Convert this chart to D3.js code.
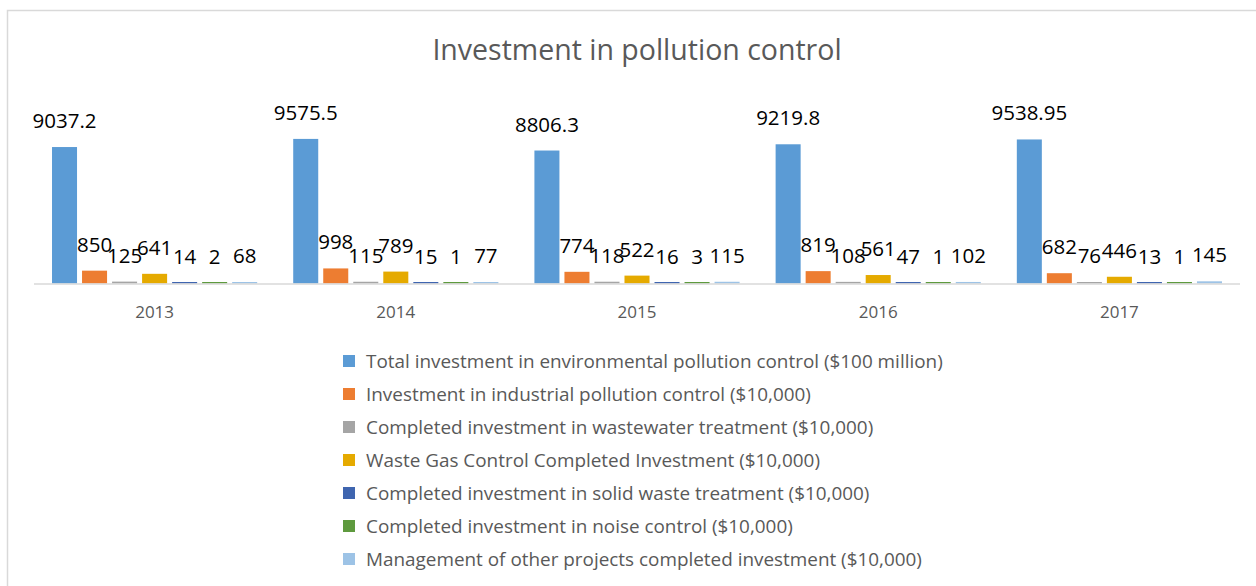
<!DOCTYPE html>
<html>
<head>
<meta charset="utf-8">
<script src="https://cdn.jsdelivr.net/npm/d3@7"></script>
<style>
  body { margin: 0; background: #fff; }
  text { font-family: "Open Sans", sans-serif; }
</style>
</head>
<body>
<div class="visholder"></div>
<script>
let width = 1256,
    height = 586;

// data
const years = ["2013", "2014", "2015", "2016", "2017"];
const seriesNames = [
    "Total investment in environmental pollution control ($100 million)",
    "Investment in industrial pollution control ($10,000)",
    "Completed investment in wastewater treatment ($10,000)",
    "Waste Gas Control Completed Investment ($10,000)",
    "Completed investment in solid waste treatment ($10,000)",
    "Completed investment in noise control ($10,000)",
    "Management of other projects completed investment ($10,000)"
];
const totalInvestment = [9037.2, 9575.5, 8806.3, 9219.8, 9538.95];
const industrial = [850, 998, 774, 819, 682];
const wastewater = [125, 115, 118, 108, 76];
const wasteGas = [641, 789, 522, 561, 446];
const solidWaste = [14, 15, 16, 47, 13];
const noise = [2, 1, 3, 1, 1];
const otherProjects = [68, 77, 115, 102, 145];

const seriesValues = [totalInvestment, industrial, wastewater, wasteGas, solidWaste, noise, otherProjects];
const colors = ["#5B9BD5", "#ED7D31", "#A5A5A5", "#E5AA00", "#3F65AF", "#5E9A3E", "#9DC3E6"];

var svg = d3.select(".visholder")
    .append("svg")
    .attr("width", width)
    .attr("height", height);

// chart frame (only top + left edge visible)
svg.append("rect")
    .attr("x", 7.5)
    .attr("y", 10.5)
    .attr("width", width + 20)
    .attr("height", height + 20)
    .attr("fill", "none")
    .attr("stroke", "#d9d9d9")
    .attr("stroke-width", 1.5);

svg.append("text")
    .attr("x", 637)
    .attr("y", 60)
    .attr("text-anchor", "middle")
    .attr("fill", "#595959")
    .style("font-size", "28.5px")
    .text("Investment in pollution control");

var x0 = d3.scaleBand().domain(years).range([34, 1240]).padding(0);
var x1 = d3.scaleBand().domain(d3.range(seriesNames.length))
    .range([0, x0.bandwidth()])
    .paddingInner(1 / 6)
    .paddingOuter(0.6);
var y = d3.scaleLinear().domain([0, 10000]).range([283.5, 132.5]);

var rows = [];
years.forEach(function (yr, i) {
    seriesValues.forEach(function (vals, s) {
        rows.push({ year: yr, s: s, v: vals[i] });
    });
});

var groups = svg.selectAll(".bar")
    .data(rows)
    .enter()
    .append("g")
    .attr("class", "bar")
    .attr("transform", function (d) {
        return `translate(${x0(d.year) + x1(d.s)},0)`;
    });

groups.append("rect")
    .attr("x", 0)
    .attr("width", x1.bandwidth())
    .attr("y", function (d) {
        return Math.min(y(d.v), y(0) - 1.5);
    })
    .attr("height", function (d) {
        return Math.max(y(0) - y(d.v), 1.5);
    })
    .attr("fill", function (d) { return colors[d.s]; });

// value labels sit centred over their bars, overlapping like the original
groups.append("text")
    .attr("x", x1.bandwidth() / 2)
    .attr("y", function (d) { return y(d.v) - 19; })
    .attr("text-anchor", "middle")
    .attr("fill", "#000")
    .style("font-size", "20.5px")
    .text(function (d) { return String(d.v); });

// baseline
svg.append("line")
    .attr("x1", 34)
    .attr("x2", 1240)
    .attr("y1", y(0) + 0.5)
    .attr("y2", y(0) + 0.5)
    .attr("stroke", "#d9d9d9")
    .attr("stroke-width", 1.5);

var xAxis = d3.axisBottom(x0).tickSize(0).tickPadding(0);
var gx = svg.append("g")
    .attr("transform", `translate(0, 318)`)
    .call(xAxis);
gx.select(".domain").remove();
gx.selectAll("text")
    .attr("dy", 0)
    .attr("y", 0)
    .attr("fill", "#595959")
    .style("font-family", "'Open Sans', sans-serif")
    .style("font-size", "17px");

var legend = svg.append("g")
    .attr("id", "legend")
    .selectAll(".legend-item")
    .data(seriesNames)
    .enter()
    .append("g")
    .attr("class", "legend-item")
    .attr("transform", function (d, i) {
        return `translate(343, ${361 + i * 33})`;
    });

legend.append("rect")
    .attr("x", 0)
    .attr("y", -6)
    .attr("width", 12)
    .attr("height", 12)
    .attr("fill", function (d, i) { return colors[i]; });

legend.append("text")
    .attr("x", 23)
    .attr("y", 0)
    .attr("dy", "0.35em")
    .attr("fill", "#595959")
    .style("font-size", "18.9px")
    .text(function (d) { return d; });
</script>
</body>
</html>
